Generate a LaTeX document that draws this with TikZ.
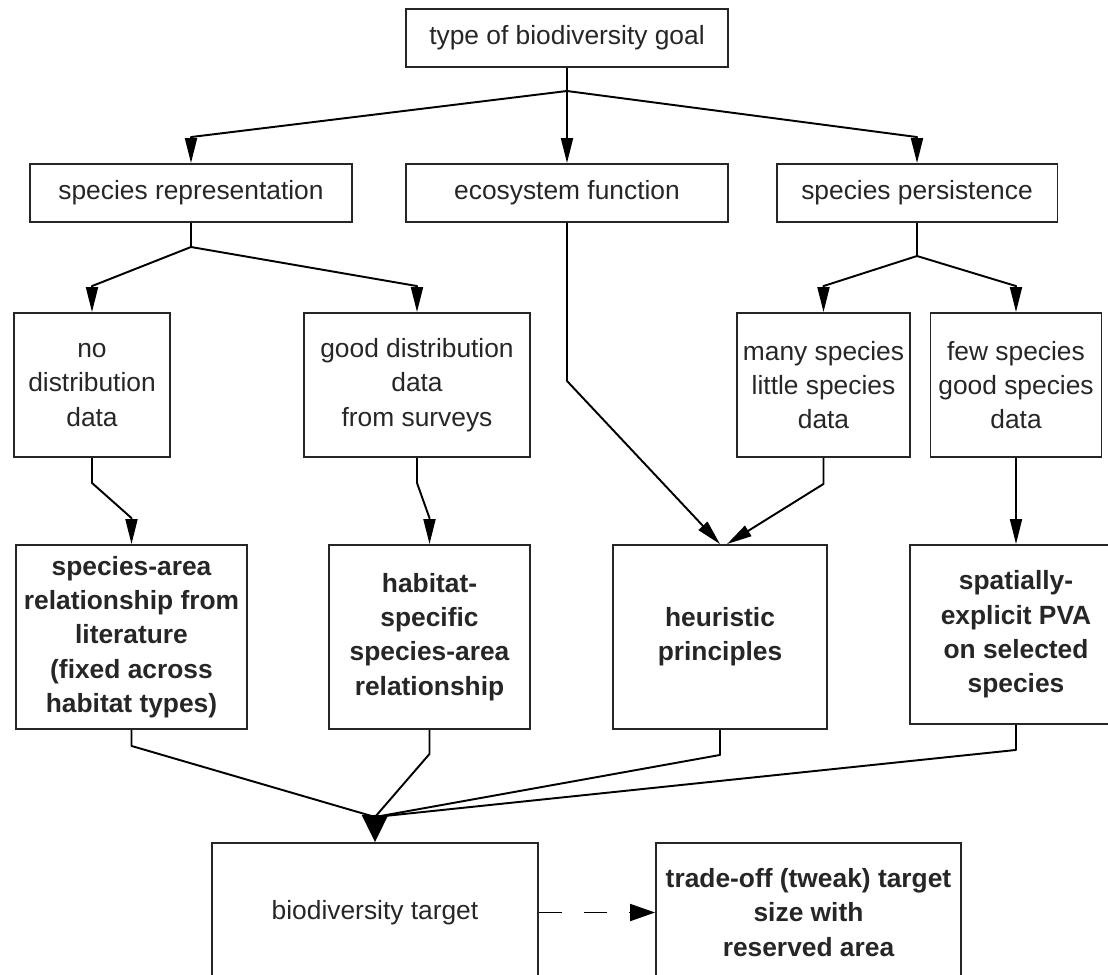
\documentclass[tikz,border=0pt]{standalone}
\usepackage{fontspec}
\setmainfont{Liberation Sans}
\usetikzlibrary{arrows.meta}
\begin{document}
\begin{tikzpicture}[x=0.02cm,y=-0.02cm,
    box/.style={draw=black!85,line width=1.1pt,align=center,inner sep=0pt,
      text=black!85,font=\fontsize{15}{19.5}\selectfont},
    boldbox/.style={box,font=\fontsize{15}{19.5}\selectfont\bfseries},
    link/.style={line width=1.1pt,line join=round},
    tip/.style={link,-{Triangle[length=0.5cm,width=0.24cm]}}]
  \useasboundingbox (0,0) rectangle (1108,974);
  \node[box,minimum width=6.44cm,minimum height=1.16cm] (goal) at (567,38) {type of biodiversity goal};
  \node[box,minimum width=6.44cm,minimum height=1.16cm] (rep) at (191,193) {species representation};
  \node[box,minimum width=6.44cm,minimum height=1.16cm] (eco) at (567,193) {ecosystem function};
  \node[box,minimum width=5.62cm,minimum height=1.16cm] (pers) at (917,193) {species persistence};
  \node[box,minimum width=3.12cm,minimum height=2.88cm] (nodist) at (92,385) {no\\distribution\\data};
  \node[box,minimum width=4.52cm,minimum height=2.88cm] (gooddist) at (417,385) {good distribution\\data\\from surveys};
  \node[box,minimum width=3.46cm,minimum height=2.88cm] (many) at (823.5,385) {many species\\little species\\data};
  \node[box,minimum width=3.42cm,minimum height=2.88cm] (few) at (1016,385) {few species\\good species\\data};
  \node[boldbox,minimum width=4.62cm,minimum height=3.68cm] (sar) at (131.5,637) {species-area\\relationship from\\literature\\(fixed across\\habitat types)};
  \node[boldbox,minimum width=4.02cm,minimum height=3.68cm] (hab) at (429.5,637) {habitat-\\specific\\species-area\\relationship};
  \node[boldbox,minimum width=4.28cm,minimum height=3.68cm] (heur) at (720,637) {heuristic\\principles};
  \node[boldbox,minimum width=4.24cm,minimum height=3.58cm] (pva) at (1016,634.5) {spatially-\\explicit PVA\\on selected\\species};
  \node[box,minimum width=6.52cm,minimum height=2.78cm] (target) at (375,912.5) {biodiversity target};
  \node[boldbox,minimum width=6.1cm,minimum height=2.78cm] (tradeoff) at (808.5,912.5) {trade-off (tweak) target\\size with\\reserved area};
  \coordinate (j1) at (567,91);
  \coordinate (j2) at (191,247);
  \coordinate (j3) at (917,256);
  \coordinate (j4) at (375,817);
  \draw[link] (goal.south) -- (j1);
  \foreach \dst in {rep,eco,pers}{
    \draw[tip] (j1) -- ([yshift=0.52cm]\dst.north) -- (\dst.north);
  }
  \draw[link] (rep.south) -- (j2);
  \draw[tip] (j2) -- ([yshift=0.52cm]nodist.north) -- (nodist.north);
  \draw[tip] (j2) -- ([yshift=0.52cm]gooddist.north) -- (gooddist.north);
  \draw[link] (pers.south) -- (j3);
  \draw[tip] (j3) -- ([yshift=0.52cm]many.north) -- (many.north);
  \draw[tip] (j3) -- ([yshift=0.52cm]few.north) -- (few.north);
  \draw[tip] (nodist.south) -- ++(0,25) -- ([yshift=0.52cm]sar.north) -- (sar.north);
  \draw[tip] (gooddist.south) -- ++(0,25) -- ([yshift=0.52cm]hab.north) -- (hab.north);
  \draw[tip] (eco.south) -- ++(0,158) -- (heur.north);
  \draw[tip] (many.south) -- ++(0,26) -- ([xshift=0.14cm]heur.north);
  \draw[tip] (few.south) -- (pva.north);
  \draw[link] (sar.south) -- ++(0,16) -- (j4);
  \draw[link] (hab.south) -- ++(0,24) -- (j4);
  \draw[link] (heur.south) -- ++(0,25) -- (j4);
  \draw[link] (pva.south) -- ++(0,25) -- (j4);
  \draw[link,-{Triangle[length=0.54cm,width=0.52cm]}] (j4) -- (target.north);
  \draw[link,dash pattern=on 0.46cm off 0.44cm,-{Triangle[length=0.5cm,width=0.34cm]}] (target.east) -- (tradeoff.west);
\end{tikzpicture}
\end{document}
